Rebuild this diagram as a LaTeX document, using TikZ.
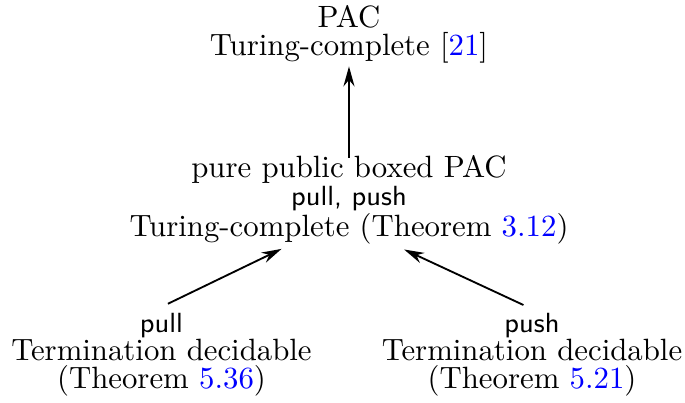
\documentclass[tikz,border=0pt]{standalone}
\usepackage{tikz}
\usetikzlibrary{arrows.meta,positioning}
\tikzset{>={Stealth[length=6.5pt,width=3.6pt]}}
\newcommand{\lnk}[1]{\textcolor{blue}{#1}}
\newcommand{\opname}[1]{{\small\sffamily #1}}

\begin{document}
\begin{tikzpicture}[
    result/.style={align=center,inner sep=0pt,font=\fontsize{10pt}{9.1pt}\selectfont},
    conn/.style={->,line width=0.6pt}]
    \useasboundingbox (0,0) rectangle (7.818,-4.599);
    \node [result] (pac) at (3.983,-0.393) {PAC\\Turing-complete [\lnk{21}]};
    \node [result] (pure) at (3.983,-2.278) {pure public boxed PAC\\\opname{pull, push}\\Turing-complete (Theorem \lnk{3.12})};
    \node [result] (pull) at (1.843,-4.049) {\opname{pull}\\Termination decidable\\(Theorem \lnk{5.36})};
    \node [result] (push) at (6.072,-4.049) {\opname{push}\\Termination decidable\\(Theorem \lnk{5.21})};
    \draw [conn] ([yshift=-1.1pt]pure.north) -- ([yshift=-0.8pt]pac.south);
    \draw [conn] ([xshift=2.1pt,yshift=2.9pt]pull.north) -- ([xshift=-21.9pt,yshift=-1.3pt]pure.south);
    \draw [conn] ([xshift=-2.8pt,yshift=2.5pt]push.north) -- ([xshift=17.9pt,yshift=-1.5pt]pure.south);
\end{tikzpicture}
\end{document}
